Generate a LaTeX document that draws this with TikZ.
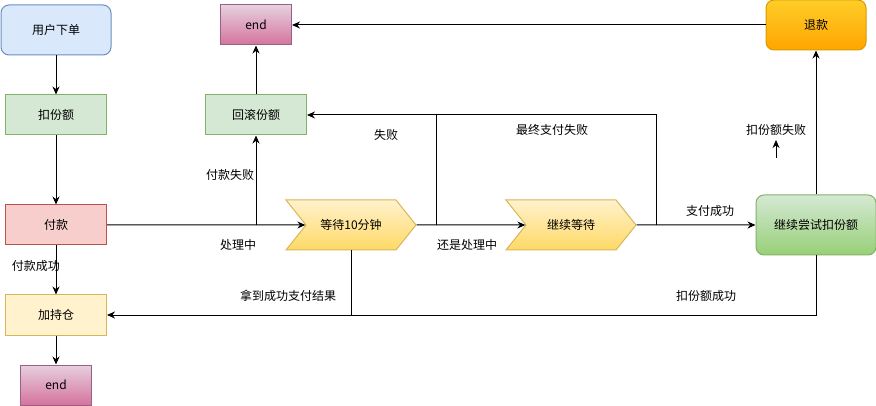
\documentclass[tikz,border=0pt]{standalone}
\usepackage{fontspec}
\setmainfont{Noto Sans CJK SC}
\usetikzlibrary{arrows.meta,shapes.symbols}
\definecolor{bluefill}{HTML}{DAE8FC}
\definecolor{bluedraw}{HTML}{6C8EBF}
\definecolor{greenfill}{HTML}{D5E8D4}
\definecolor{greendraw}{HTML}{82B366}
\definecolor{greendeep}{HTML}{97D077}
\definecolor{redfill}{HTML}{F8CECC}
\definecolor{reddraw}{HTML}{B85450}
\definecolor{yellowfill}{HTML}{FFF2CC}
\definecolor{yellowdraw}{HTML}{D6B656}
\definecolor{yellowdeep}{HTML}{FFD966}
\definecolor{pinktop}{HTML}{E6D0DE}
\definecolor{pinkbottom}{HTML}{D5739D}
\definecolor{pinkdraw}{HTML}{996185}
\definecolor{orangetop}{HTML}{FFCD28}
\definecolor{orangebottom}{HTML}{FFA500}
\definecolor{orangedraw}{HTML}{D79B00}

\begin{document}
\begin{tikzpicture}[x=1pt,y=-1pt,
  every node/.style={font=\fontsize{12}{14}\selectfont},
  box/.style={draw, line width=1pt, minimum width=101pt, minimum height=40pt, inner sep=0pt},
  greenbox/.style={box, draw=greendraw, fill=greenfill},
  redbox/.style={box, draw=reddraw, fill=redfill},
  yellowbox/.style={box, draw=yellowdraw, fill=yellowfill},
  endbox/.style={box, draw=pinkdraw, top color=pinktop, bottom color=pinkbottom, minimum width=71pt},
  blueround/.style={box, rounded corners=8pt, draw=bluedraw, fill=bluefill, minimum width=110pt, minimum height=50pt},
  orangeround/.style={box, rounded corners=8pt, draw=orangedraw, top color=orangetop, bottom color=orangebottom, minimum width=100pt, minimum height=50pt},
  greenround/.style={box, rounded corners=8pt, draw=greendraw, top color=greenfill, bottom color=greendeep, minimum width=120pt, minimum height=60pt},
  stepbox/.style={shape=signal, signal from=west, signal to=east, signal pointer angle=102.7,
    draw=yellowdraw, line width=1pt, top color=yellowfill, bottom color=yellowdeep,
    minimum width=130pt, minimum height=50pt, inner sep=0pt},
  flow/.style={line width=1pt, -{Stealth[length=8pt,width=7pt]}},
  wire/.style={line width=1pt}]
\useasboundingbox (0,0) rectangle (876,406);
% Drawing nodes
\node[blueround] (order) at (56,30) {用户下单};
\node[greenbox] (deduct) at (56,115) {扣份额};
\node[redbox] (pay) at (56,225) {付款};
\node[yellowbox] (hold) at (56,315) {加持仓};
\node[endbox] (endA) at (56,385) {end};
\node[endbox] (endB) at (256,25) {end};
\node[greenbox] (rollback) at (256,115) {回滚份额};
\node[stepbox] (wait) at (351,225) {等待10分钟};
\node[stepbox] (waitmore) at (571,225) {继续等待};
\node[orangeround] (refund) at (816,25) {退款};
\node[greenround] (retry) at (816,225) {继续尝试扣份额};
% Done with nodes; drawing connectors
\draw[flow] (order) -- (deduct);
\draw[flow] (deduct) -- (pay);
\draw[flow] (pay) -- (hold);
\draw[flow] (hold) -- (endA);
\draw[flow] (pay) -- (wait);
\coordinate (payfail) at (256,225);
\draw[flow] (payfail) -- (rollback);
\draw[flow] (rollback) -- (endB);
\draw[flow] (wait) -- (waitmore);
\coordinate (waitfail) at (436,225);
\draw[flow] (waitfail) |- (rollback);
\draw[flow] (waitmore) -- (retry);
\coordinate (finalfail) at (656,225);
\draw[wire] (finalfail) |- (waitfail |- rollback);
\draw[flow] (retry) -- (refund);
\draw[flow] (refund) -- (endB);
\draw[flow] (retry) |- (hold);
\draw[wire] (wait.south) -- (wait.south |- hold);
\coordinate (failtail) at (776,158);
\coordinate (failhead) at (776,140);
\draw[flow] (failtail) -- (failhead);
% Done with connectors; drawing labels
\node (lpayok) at (36,266) {付款成功};
\node (lpending) at (238,245) {处理中};
\node (lpayfail) at (230,175) {付款失败};
\node (lfail) at (386,135) {失败};
\node (lfinalfail) at (552,130) {最终支付失败};
\node (lstill) at (467,245) {还是处理中};
\node (lpaid) at (710,211) {支付成功};
\node (ldeductfail) at (776,130) {扣份额失败};
\node (lgotresult) at (288,296) {拿到成功支付结果};
\node (ldeductok) at (706,296) {扣份额成功};
\end{tikzpicture}
\end{document}
